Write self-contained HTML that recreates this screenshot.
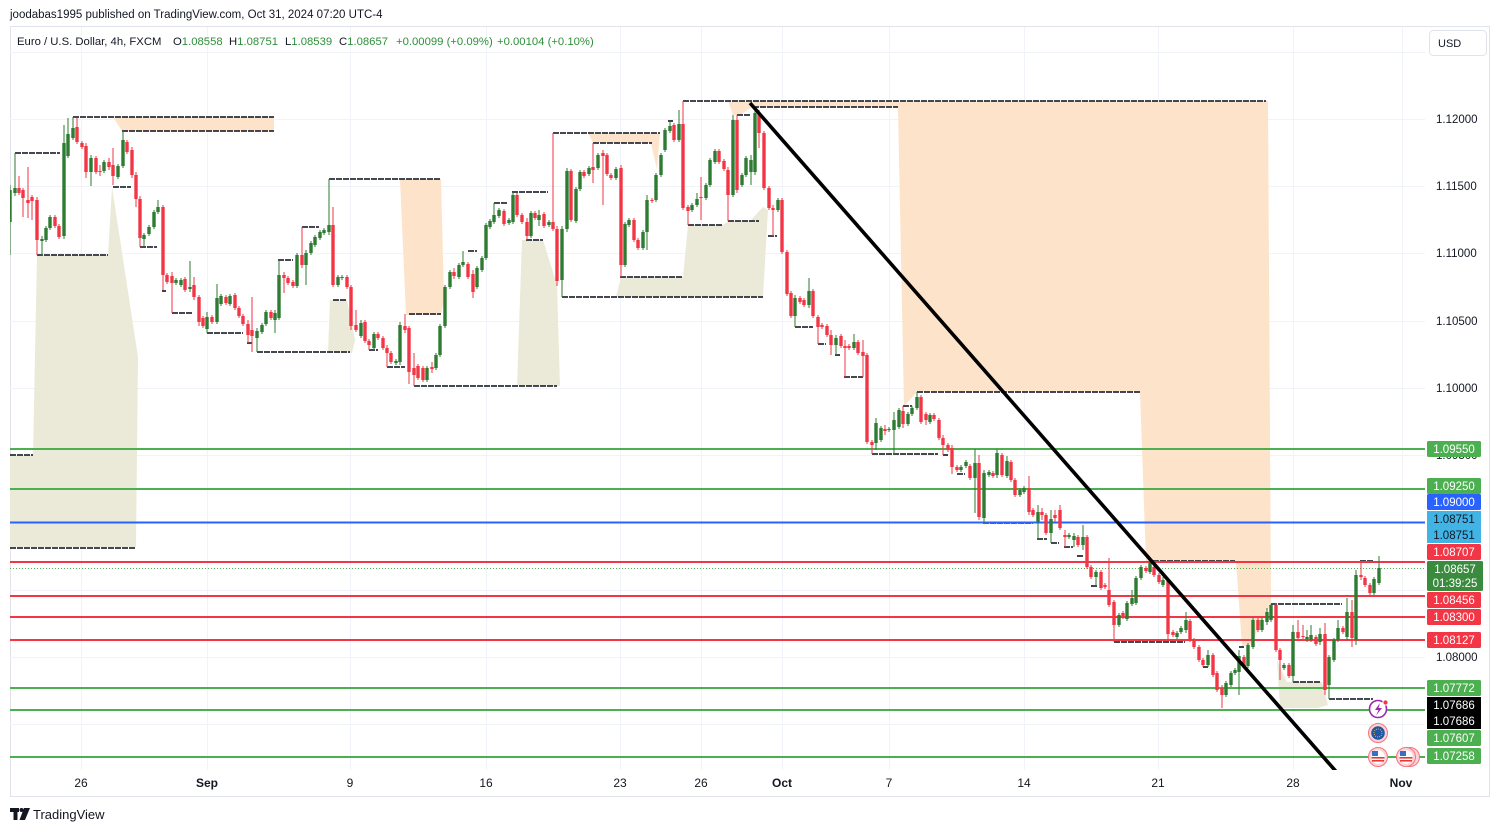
<!DOCTYPE html>
<html><head><meta charset="utf-8"><style>
html,body{margin:0;padding:0;background:#fff;}
body{width:1500px;height:832px;overflow:hidden;position:relative;font-family:"Liberation Sans",Arial,sans-serif;}
svg text{font-family:"Liberation Sans",Arial,sans-serif;}
</style></head><body>
<svg id="s" width="1500" height="832" viewBox="0 0 1500 832" xmlns="http://www.w3.org/2000/svg">
<defs><clipPath id="pc"><rect x="10" y="27" width="1415" height="743"/></clipPath></defs>
<rect x="10.5" y="26.5" width="1479" height="770" fill="none" stroke="#e0e3eb" stroke-width="1"/>
<g stroke="#f0f3fa" stroke-width="1">
<line x1="81.5" y1="27" x2="81.5" y2="770"/><line x1="207.5" y1="27" x2="207.5" y2="770"/><line x1="350.5" y1="27" x2="350.5" y2="770"/><line x1="486.5" y1="27" x2="486.5" y2="770"/><line x1="620.5" y1="27" x2="620.5" y2="770"/><line x1="701.5" y1="27" x2="701.5" y2="770"/><line x1="782.5" y1="27" x2="782.5" y2="770"/><line x1="889.5" y1="27" x2="889.5" y2="770"/><line x1="1024.5" y1="27" x2="1024.5" y2="770"/><line x1="1158.5" y1="27" x2="1158.5" y2="770"/><line x1="1293.5" y1="27" x2="1293.5" y2="770"/><line x1="1402.5" y1="27" x2="1402.5" y2="770"/>
<line x1="10" y1="52.5" x2="1425" y2="52.5"/><line x1="10" y1="119.5" x2="1425" y2="119.5"/><line x1="10" y1="186.5" x2="1425" y2="186.5"/><line x1="10" y1="253.5" x2="1425" y2="253.5"/><line x1="10" y1="321.5" x2="1425" y2="321.5"/><line x1="10" y1="388.5" x2="1425" y2="388.5"/><line x1="10" y1="455.5" x2="1425" y2="455.5"/><line x1="10" y1="522.5" x2="1425" y2="522.5"/><line x1="10" y1="590.5" x2="1425" y2="590.5"/><line x1="10" y1="657.5" x2="1425" y2="657.5"/><line x1="10" y1="724.5" x2="1425" y2="724.5"/>
</g>
<g clip-path="url(#pc)">
<g fill="#ebead8">
<polygon points="10,455 33,455 37,255 108,255 112,187 138,357 136,547 10,547"/>
<polygon points="330,300 347,300 355,340 352,353 328,353"/>
<polygon points="522,240 543,240 557,285 560,386 517,386"/>
<polygon points="616,297 621,277 683,277 688,225 723,225 728,221 750,221 763,207 768,210 763,297"/>
<polygon points="1277,660 1287,682 1322,682 1328,705 1318,708 1280,708"/>
</g>
<g fill="#fde3c9">
<polygon points="113,117 274,117 274,131 122,131"/>
<polygon points="400,179 441,179 444,300 441,315 406,315"/>
<polygon points="588,133 660,133 657,170 651,143 593,143"/>
<polygon points="728,101 1268,101 1271,603 1250,646 1242,646 1236,562 1146,562 1140,392 917,392 904,406 898,107 752,107 740,115 733,115"/>
</g>
<g id="lv" stroke="#2a2e39" stroke-width="1.8" stroke-dasharray="6,1"></g>
<g stroke-width="2">
<line x1="10" y1="449" x2="1425" y2="449" stroke="#4caf50"/>
<line x1="10" y1="489" x2="1425" y2="489" stroke="#4caf50"/>
<line x1="10" y1="522.5" x2="1425" y2="522.5" stroke="#2962ff"/>
<line x1="10" y1="562" x2="1425" y2="562" stroke="#f23645"/>
<line x1="10" y1="596" x2="1425" y2="596" stroke="#f23645"/>
<line x1="10" y1="617" x2="1425" y2="617" stroke="#f23645"/>
<line x1="10" y1="640" x2="1425" y2="640" stroke="#f23645"/>
<line x1="10" y1="688" x2="1425" y2="688" stroke="#4caf50"/>
<line x1="10" y1="710" x2="1425" y2="710" stroke="#4caf50"/>
<line x1="10" y1="757" x2="1425" y2="757" stroke="#4caf50"/>
</g>
<line x1="10" y1="568.5" x2="1425" y2="568.5" stroke="#4caf50" stroke-width="1" stroke-dasharray="1,2"/>
<g id="cd"></g>
<line x1="750" y1="103" x2="1340" y2="776" stroke="#000" stroke-width="3.6"/>
</g>
<g>
<circle cx="1378" cy="709" r="8.5" fill="#fff" stroke="#9c27b0" stroke-width="1.6"/>
<path d="M1380,703 L1375,710 L1378.5,710 L1376,715.5 L1382,708 L1378.5,708 Z" fill="#9c27b0"/>
<circle cx="1385.5" cy="702.5" r="2.6" fill="#f23645" stroke="#fff" stroke-width="1"/>
<circle cx="1378" cy="733" r="9.5" fill="#fbd3d6" stroke="#f4747f" stroke-width="1"/>
<circle cx="1378" cy="733" r="6.8" fill="#2456a6"/>
<circle cx="1378" cy="733" r="4" fill="none" stroke="#f2d03b" stroke-width="1" stroke-dasharray="0.8,1.3"/>
<circle cx="1410" cy="757" r="9.5" fill="#fbd3d6" stroke="#f4747f" stroke-width="1"/>
<circle cx="1378" cy="757" r="9.5" fill="#fbd3d6" stroke="#f4747f" stroke-width="1"/>
<circle cx="1378" cy="757" r="6.8" fill="#fff"/>
<rect x="1371.5" y="757" width="13" height="1.6" fill="#e53935"/><rect x="1372" y="760" width="12" height="1.6" fill="#e53935"/>
<rect x="1372" y="751" width="6" height="5" fill="#3a6fc4"/>
<circle cx="1406" cy="757" r="9.5" fill="#fbd3d6" stroke="#f4747f" stroke-width="1"/>
<circle cx="1406" cy="757" r="6.8" fill="#fff"/>
<rect x="1399.5" y="757" width="13" height="1.6" fill="#e53935"/><rect x="1400" y="760" width="12" height="1.6" fill="#e53935"/>
<rect x="1400" y="751" width="6" height="5" fill="#3a6fc4"/>
</g>
<g font-size="11.5" fill="#131722">
<text x="1436" y="123">1.12000</text>
<text x="1436" y="190">1.11500</text>
<text x="1436" y="257">1.11000</text>
<text x="1436" y="325">1.10500</text>
<text x="1436" y="392">1.10000</text>
<text x="1436" y="459">1.09500</text>
<text x="1436" y="661">1.08000</text>
</g>
<g font-size="11.5" text-anchor="middle">
<rect x="1427" y="441" width="54" height="16" rx="1.5" fill="#4caf50"/><text x="1454" y="453" fill="#fff">1.09550</text>
<rect x="1427" y="478" width="54" height="16" rx="1.5" fill="#4caf50"/><text x="1454" y="490" fill="#fff">1.09250</text>
<rect x="1427" y="494" width="54" height="16" rx="1.5" fill="#2962ff"/><text x="1454" y="506" fill="#fff">1.09000</text>
<rect x="1427" y="511" width="54" height="16" fill="#42b3e5"/><text x="1454" y="523" fill="#131722">1.08751</text>
<rect x="1427" y="527" width="54" height="16" fill="#42b3e5"/><text x="1454" y="539" fill="#131722">1.08751</text>
<rect x="1427" y="544" width="54" height="16" rx="1.5" fill="#f23645"/><text x="1454" y="556" fill="#fff">1.08707</text>
<rect x="1427" y="561" width="56" height="30" rx="1.5" fill="#3b8b3f"/><text x="1455" y="573" fill="#fff">1.08657</text><text x="1455" y="587" fill="#fff">01:39:25</text>
<rect x="1427" y="592" width="54" height="16" rx="1.5" fill="#f23645"/><text x="1454" y="604" fill="#fff">1.08456</text>
<rect x="1427" y="609" width="54" height="16" rx="1.5" fill="#f23645"/><text x="1454" y="621" fill="#fff">1.08300</text>
<rect x="1427" y="632" width="54" height="16" rx="1.5" fill="#f23645"/><text x="1454" y="644" fill="#fff">1.08127</text>
<rect x="1427" y="680" width="54" height="16" rx="1.5" fill="#4caf50"/><text x="1454" y="692" fill="#fff">1.07772</text>
<rect x="1427" y="697" width="54" height="16" fill="#000"/><text x="1454" y="709" fill="#fff">1.07686</text>
<rect x="1427" y="713" width="54" height="16" fill="#000"/><text x="1454" y="725" fill="#fff">1.07686</text>
<rect x="1427" y="730" width="54" height="16" rx="1.5" fill="#4caf50"/><text x="1454" y="742" fill="#fff">1.07607</text>
<rect x="1427" y="748" width="54" height="16" rx="1.5" fill="#4caf50"/><text x="1454" y="760" fill="#fff">1.07258</text>
</g>
<rect x="1429.5" y="30.5" width="57" height="25" rx="4" fill="#fff" stroke="#e0e3eb"/>
<text x="1438" y="47" font-size="11" fill="#131722">USD</text>
<g font-size="12" fill="#131722" text-anchor="middle">
<text x="81" y="787">26</text>
<text x="207" y="787" font-weight="bold">Sep</text>
<text x="350" y="787">9</text>
<text x="486" y="787">16</text>
<text x="620" y="787">23</text>
<text x="701" y="787">26</text>
<text x="782" y="787" font-weight="bold">Oct</text>
<text x="889" y="787">7</text>
<text x="1024" y="787">14</text>
<text x="1158" y="787">21</text>
<text x="1293" y="787">28</text>
<text x="1401" y="787" font-weight="bold">Nov</text>
</g>
<text x="10" y="18" font-size="11.5" fill="#131722">joodabas1995 published on TradingView.com, Oct 31, 2024 07:20 UTC-4</text>
<g font-size="11.3" fill="#131722">
<text x="17" y="45">Euro / U.S. Dollar, 4h, FXCM</text>
<text x="173" y="45">O<tspan fill="#2f8f3a">1.08558</tspan></text>
<text x="229" y="45">H<tspan fill="#2f8f3a">1.08751</tspan></text>
<text x="285" y="45">L<tspan fill="#2f8f3a">1.08539</tspan></text>
<text x="339" y="45">C<tspan fill="#2f8f3a">1.08657</tspan></text>
<text x="396" y="45" fill="#2f8f3a">+0.00099 (+0.09%)</text>
<text x="497" y="45" fill="#2f8f3a">+0.00104 (+0.10%)</text>
</g>
<g fill="#131722">
<rect x="10" y="808" width="9" height="4"/><rect x="13.5" y="808" width="4" height="12"/>
<circle cx="21.5" cy="810" r="2"/>
<polygon points="24,808 30,808 25,820 19.5,820"/>
</g>
<text x="33" y="819" font-size="13" fill="#131722">TradingView</text>
</svg>
<script>
(function(){
var NS="http://www.w3.org/2000/svg";
var D="10 222 190 185 255;15 193 188 153 196;19 188 193 176 195;23 190 198 188 217;28 200 203 167 218;32 197 201 195 220;37 200 240 197 255;42 241 239 236 256;46 240 228;50 228 217;55 217 226;59 226 237;64 236 143 125 239;68 156 134 118 158;73 138 128 117 140;77 127 142 118 144;82 143 147;86 146 172 143 178;91 172 158 155 186;96 158 172;100 171 172 165 176;104 171 162;109 162 167 158 170;113 165 176 148 185;118 177 166;123 166 140 131 168;127 142 152;132 150 175 147 178;136 175 199 172 207;140 199 238 196 247;144 239 235 233 246;149 234 227;154 227 212;158 212 207 200 214;163 207 275 205 290;167 275 282;172 276 283 272 313;176 283 280;181 285 280;185 279 290;190 289 287 261 292;194 285 297 277 300;199 297 322 295 326;203 318 326;207 329 317 312 333;212 317 322;217 322 298 284 324;221 304 296;226 297 303;230 304 296;235 295 308;239 308 316;243 316 324;248 324 335 320 343;252 330 336 297 352;257 338 331 328 352;262 332 325;266 324 312;271 312 318;275 320 313 310 333;279 318 275 260 320;284 275 278 272 293;288 278 283;293 282 286;297 286 255;302 255 265 227 268;306 265 253 250 285;311 253 243;315 245 237;320 238 232;324 233 230;329 232 225 179 235;333 225 285 207 287;338 285 277;342 278 277;347 277 287;351 287 326 285 330;356 325 330 310 332;361 336 323 320 338;365 322 341;369 341 345 339 350;374 348 334;378 334 338;383 338 348;387 348 353 345 367;391 353 362;396 363 361;400 362 325 322 365;405 326 330 314 333;409 328 372 326 384;414 368 375 353 386;418 366 378;423 368 380;427 380 368;432 367 369 362 373;436 368 355;440 355 326;445 326 287;450 287 272;454 272 276 268 279;459 277 265;463 265 262 251 267;468 264 277;473 274 292 270 298;477 287 268;482 270 258;486 258 225;490 227 221;494 222 215 203 224;499 216 210;504 211 224;509 223 220;513 222 195 192 224;517 195 215;522 215 222;527 222 236 218 240;531 236 213;535 213 218;539 220 215 210 226;544 214 226;549 225 222;553 222 229 133 231;557 229 281 226 286;562 280 229 226 297;567 229 171 168 232;571 171 220;576 221 189;580 189 172;584 172 176;589 174 168;593 167 170 143 183;598 168 155;603 153 156 150 205;607 155 174;611 175 178;616 178 169;621 168 265 165 277;625 265 224;629 225 220;634 220 240;638 240 248;643 248 232;647 232 200 195 250;652 200 201;656 200 175;661 175 155;665 150 130;670 131 126 121 133;674 125 140;679 140 124 110 142;683 124 208 101 210;688 207 211 205 225;692 210 205;697 205 199 193 207;701 197 198 177 220;706 198 185;710 185 160;715 162 151;719 151 162;724 161 169;728 170 195 167 221;733 195 120 115 197;737 120 190 115 193;742 185 175;746 175 158;751 172 160 155 185;755 172 113 107 175;759 113 133 110 148;764 133 188;769 188 208;773 208 210 205 236;778 210 200;782 200 252;787 252 294;791 293 316;795 316 298 295 327;800 298 302;804 300 305;809 305 291 278 308;813 291 316;818 317 327 315 344;822 325 327;827 326 335;831 335 345 330 355;836 345 338 335 355;841 336 346;845 346 348 340 377;849 346 348;854 348 342 334 350;858 342 353;863 352 356 340 377;867 355 442;872 442 445 440 454;876 443 423 418 450;881 440 428;885 429 431 425 435;889 430 429;894 430 420 412 455;899 427 410;903 411 424 406 428;908 424 414;912 414 408;917 408 397 392 410;921 397 422;926 414 420 412 425;930 422 415;934 415 419;939 420 438;943 438 445 435 455;948 445 450;952 448 467 445 474;957 467 470;961 470 467;966 466 462;970 466 478;975 478 463 449 513;979 463 517 455 520;984 518 473 470 523;989 475 472;993 473 476;997 475 453 449 478;1002 455 475;1007 476 461 456 478;1011 462 480;1015 480 495;1020 495 490;1024 492 488;1029 488 512 476 515;1033 510 515;1038 522 512 505 539;1042 512 515 508 520;1046 515 533;1051 533 519 510 543;1055 515 518 510 522;1060 510 528 505 530;1065 535 537 530 547;1069 537 535;1074 540 536 533 547;1078 537 545;1083 545 537 525 550;1087 537 567;1091 567 577;1096 577 572 570 586;1101 572 588;1105 585 587;1109 590 605 558 607;1114 602 625 600 642;1119 625 615;1123 613 617;1127 619 603;1132 604 598 590 606;1136 603 578;1141 578 567 565 580;1146 568 571;1150 572 563 560 574;1154 567 575;1159 575 582;1163 585 580 577 587;1168 581 634 578 640;1173 632 635;1177 637 633;1181 632 628;1186 630 620 612 633;1190 621 640;1194 640 647;1199 647 660;1203 660 665;1208 665 655 650 667;1213 655 675;1217 673 690;1222 688 695 685 708;1226 695 683;1231 685 673;1235 673 670;1239 672 656 650 695;1244 657 667;1248 666 645;1253 647 620;1258 620 630;1262 630 620;1267 622 612 608 625;1271 620 605 604 622;1276 605 650;1280 650 660 648 680;1284 668 665;1289 665 676;1293 676 632 625 682;1298 632 638 620 640;1303 636 637 625 640;1307 639 637 630 642;1311 640 635 625 642;1316 637 644;1320 642 634 628 645;1325 634 690 623 695;1329 685 657 655 699;1334 660 640;1338 640 628 620 642;1343 628 632;1347 637 612 598 640;1352 612 638 600 647;1356 640 575 570 645;1361 575 577 561 580;1365 578 585;1370 585 593;1374 593 579;1379 583 568 556 585";
var g=document.getElementById("cd");
D.split(";").forEach(function(r){
 var a=r.trim().split(/\s+/).map(Number);
 var x=a[0],o=a[1],c=a[2];
 var top=Math.min(o,c),bot=Math.max(o,c);
 var h=a.length>3?a[3]:top-2, l=a.length>4?a[4]:bot+2;
 var col=c<o?"#2e7b32":"#f23645";
 var ln=document.createElementNS(NS,"line");
 ln.setAttribute("x1",x);ln.setAttribute("x2",x);ln.setAttribute("y1",h);ln.setAttribute("y2",l);
 ln.setAttribute("stroke",col);ln.setAttribute("stroke-width","1");g.appendChild(ln);
 var rc=document.createElementNS(NS,"rect");
 rc.setAttribute("x",x-1.7);rc.setAttribute("width",3.4);rc.setAttribute("y",top);
 rc.setAttribute("height",Math.max(1,bot-top));rc.setAttribute("fill",col);g.appendChild(rc);
});
var L=[[15,60,153],[73,274,117],[122,274,131],[37,108,255],[113,131,187],[140,157,247],[162,166,291],[172,193,313],[207,243,333],[247,252,343],[257,350,352],[10,33,455],[10,135,548],[278,293,260],[302,319,227],[329,441,179],[333,347,300],[369,378,350],[387,405,367],[409,441,314],[414,557,386],[468,477,251],[494,508,203],[512,548,192],[526,543,240],[562,763,297],[553,660,133],[593,652,143],[620,683,277],[683,1266,101],[753,898,107],[737,751,115],[668,673,121],[688,723,225],[728,759,221],[768,777,236],[795,813,327],[818,826,344],[835,840,355],[844,863,377],[917,1140,392],[903,912,406],[872,938,454],[943,948,455],[957,965,474],[983,1033,523],[1037,1047,539],[1051,1059,543],[1064,1073,547],[1077,1083,556],[1091,1097,586],[1153,1235,561],[1114,1185,642],[1203,1208,667],[1271,1342,604],[1239,1244,647],[1293,1320,682],[1329,1373,699],[1360,1373,561]];
var lv=document.getElementById("lv");
L.forEach(function(s){
 var ln=document.createElementNS(NS,"line");
 ln.setAttribute("x1",s[0]);ln.setAttribute("x2",s[1]);ln.setAttribute("y1",s[2]);ln.setAttribute("y2",s[2]);
 lv.appendChild(ln);
});
})();
</script>
</body></html>
